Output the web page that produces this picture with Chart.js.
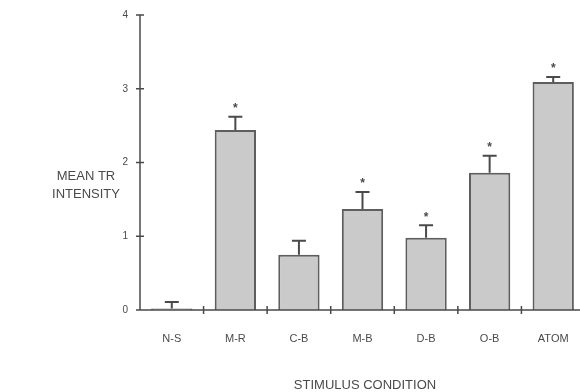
<!DOCTYPE html>
<html>
<head>
<meta charset="utf-8">
<script src="https://cdn.jsdelivr.net/npm/chart.js@4/dist/chart.umd.min.js"></script>
<style>
  html, body { margin: 0; padding: 0; background: #fff; overflow: hidden; }
  /* the axis of the original runs a few pixels past the right edge */
  #wrap { width: 590px; height: 392px; }
</style>
</head>
<body>
<div id="wrap"><canvas id="chart-tr"></canvas></div>
<script>
// values
const conditions = ["N-S", "M-R", "C-B", "M-B", "D-B", "O-B", "ATOM"];
const meanTR = [0.02, 2.44, 0.75, 1.37, 0.98, 1.86, 3.09];
const semTR = [0.09, 0.18, 0.19, 0.23, 0.17, 0.23, 0.07];
const significant = [false, true, false, true, true, true, true];
const yTicks = [0, 1, 2, 3, 4];

const ink = "#4a4a4a";
const font = "'Liberation Sans', Arial, sans-serif";

// error bars, stars, crossing tick marks and the titles
const decorations = {
  id: "decorations",
  afterDatasetsDraw(chart) {
    const ctx = chart.ctx;
    const x = chart.scales.x, y = chart.scales.y;
    const meta = chart.getDatasetMeta(0);
    ctx.save();
    ctx.strokeStyle = ink;
    ctx.fillStyle = ink;
    ctx.lineWidth = 2;

    meta.data.forEach((bar, i) => {
      const top = y.getPixelForValue(meanTR[i]);
      const cap = y.getPixelForValue(meanTR[i] + semTR[i]);
      ctx.beginPath();
      ctx.moveTo(bar.x, top);
      ctx.lineTo(bar.x, cap);
      ctx.moveTo(bar.x - 7, cap);
      ctx.lineTo(bar.x + 7, cap);
      ctx.stroke();
      if (significant[i]) {
        ctx.font = "bold 12px " + font;
        ctx.textAlign = "center";
        ctx.textBaseline = "middle";
        ctx.fillText("*", bar.x, cap - 8);
      }
    });

    // axis lines with tick marks on both sides
    const left = chart.chartArea.left, bottom = chart.chartArea.bottom;
    ctx.lineWidth = 1.5;
    ctx.beginPath();
    ctx.moveTo(left, y.getPixelForValue(4));
    ctx.lineTo(left, bottom);
    ctx.lineTo(chart.chartArea.right, bottom);
    yTicks.forEach(v => {
      const py = y.getPixelForValue(v);
      ctx.moveTo(left - 4, py);
      ctx.lineTo(left + 4, py);
    });
    const step = (chart.chartArea.right - left) / conditions.length;
    for (let i = 1; i < conditions.length; i++) {
      const px = left + step * i;
      ctx.moveTo(px, bottom - 4);
      ctx.lineTo(px, bottom + 4);
    }
    ctx.stroke();

    ctx.font = "13px " + font;
    ctx.textAlign = "center";
    ctx.textBaseline = "middle";
    ctx.fillText("MEAN TR", 86, 176);
    ctx.fillText("INTENSITY", 86, 194);
    ctx.fillText("STIMULUS CONDITION", 365, 385);
    ctx.restore();
  }
};

new Chart(document.getElementById("chart-tr").getContext("2d"), {
  type: "bar",
  data: {
    labels: conditions,
    datasets: [{
      data: meanTR,
      backgroundColor: "#cacaca",
      borderColor: "#5e5e5e",
      borderWidth: 2,
      categoryPercentage: 1,
      barPercentage: 0.65
    }]
  },
  options: {
    responsive: true,
    maintainAspectRatio: false,
    animation: false,
    layout: { padding: { top: 15, left: 0, right: 5, bottom: 0 } },
    plugins: {
      legend: { display: false },
      tooltip: { enabled: false }
    },
    scales: {
      x: {
        grid: { display: false },
        border: { display: false },
        ticks: { color: ink, font: { family: font, size: 11 }, padding: 14, maxRotation: 0 },
        afterFit: s => { s.height = 82; }
      },
      y: {
        min: 0,
        max: 4,
        grid: { display: false },
        border: { display: false },
        afterBuildTicks: s => { s.ticks = yTicks.map(v => ({ value: v })); },
        ticks: { color: ink, font: { family: font, size: 10 }, padding: 4 },
        afterFit: s => { s.width = 140; }
      }
    }
  },
  plugins: [decorations]
});
</script>
</body>
</html>
